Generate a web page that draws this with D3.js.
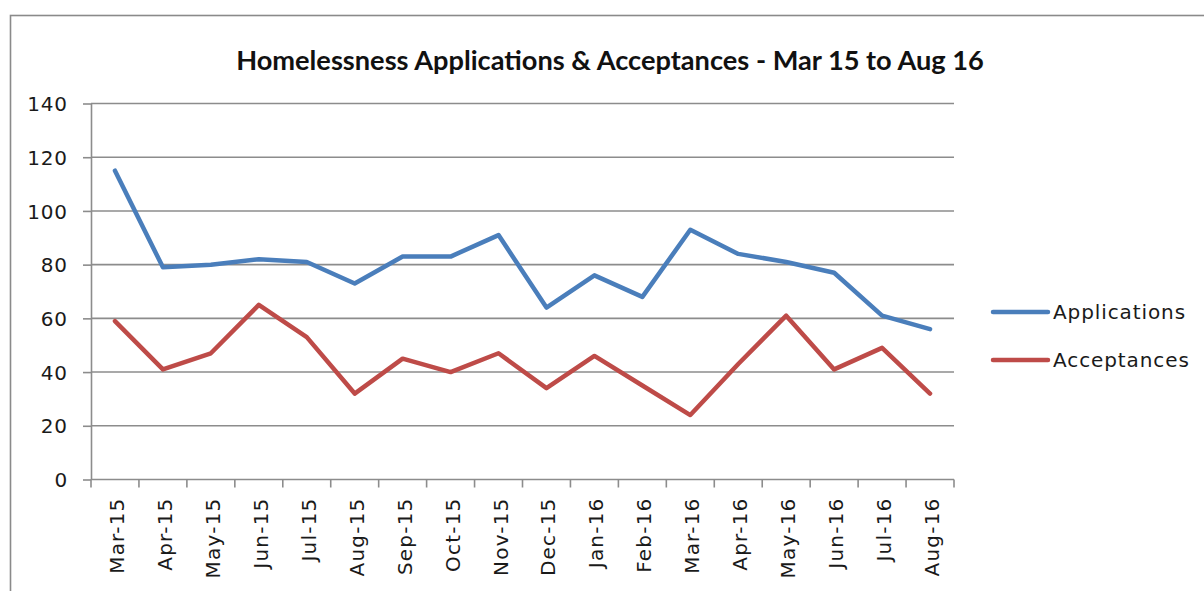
<!DOCTYPE html>
<html>
  <head>
    <meta http-equiv="Content-Type" content="text/html;charset=utf-8"/>
    <script type="text/javascript" src="https://cdn.jsdelivr.net/npm/d3@7/dist/d3.min.js"></script>
    <style type="text/css">
      body { margin: 0; background: #fff; }
      text {
        font-family: "DejaVu Sans", Verdana, sans-serif;
        font-size: 20px;
        letter-spacing: 0.9px;
        fill: #1a1a1a;
      }
      .lbl { letter-spacing: 1.2px; }
      .title {
        font-family: Lato, "Open Sans", sans-serif;
        font-weight: bold;
        font-size: 27.2px;
        letter-spacing: 0;
        fill: #111;
      }
      .grid line { stroke: #8c8c8c; stroke-width: 1.6px; }
      .axis path, .axis line { stroke: #8c8c8c; stroke-width: 1.6px; }
    </style>
  </head>
  <body>
    <svg id="chart"></svg>
    <script type="text/javascript">

    var months = ["Mar-15", "Apr-15", "May-15", "Jun-15", "Jul-15", "Aug-15", "Sep-15", "Oct-15", "Nov-15",
                  "Dec-15", "Jan-16", "Feb-16", "Mar-16", "Apr-16", "May-16", "Jun-16", "Jul-16", "Aug-16"];
    var applications = [115, 79, 80, 82, 81, 73, 83, 83, 91, 64, 76, 68, 93, 84, 81, 77, 61, 56];
    var acceptances  = [59, 41, 47, 65, 53, 32, 45, 40, 47, 34, 46, 35, 24, 43, 61, 41, 49, 32];
    var yTicks = [0, 20, 40, 60, 80, 100, 120, 140];
    var seriesNames = ["Applications", "Acceptances"];
    var seriesColors = ["#4a7ebb", "#be4b48"];

    var w = 1204, h = 591;
    var plotL = 91, plotR = 954, plotT = 103.5, plotB = 479.5;

    var svg = d3.select("#chart")
        .attr("width", w)
        .attr("height", h);

    // outer chart border (runs off the right and bottom edges)
    svg.append("rect")
        .attr("x", 10.5).attr("y", 15.5)
        .attr("width", 1400).attr("height", 800)
        .attr("fill", "none")
        .attr("stroke", "#8a8a8a")
        .attr("stroke-width", 1.6);

    svg.append("text")
        .attr("class", "title")
        .attr("x", 610)
        .attr("y", 70)
        .attr("text-anchor", "middle")
        .text("Homelessness Applications & Acceptances - Mar 15 to Aug 16");

    var x = d3.scaleBand().domain(months).range([plotL, plotR]);
    var y = d3.scaleLinear().domain([0, 140]).range([plotB, plotT]);

    // horizontal gridlines
    svg.append("g").attr("class", "grid")
      .selectAll("line").data(yTicks.filter(function(d) { return d > 0; })).enter()
      .append("line")
        .attr("x1", plotL).attr("x2", plotR)
        .attr("y1", function(d) { return y(d); })
        .attr("y2", function(d) { return y(d); });

    // y axis
    var yAxis = svg.append("g").attr("class", "axis")
        .attr("transform", "translate(" + plotL + ",0)")
        .call(d3.axisLeft(y).tickValues(yTicks).tickSize(8).tickPadding(15).tickSizeOuter(0));
    yAxis.selectAll("text").attr("dy", "0.36em");

    // x axis: labels at band centres, ticks at band boundaries (Excel style)
    var xAxis = svg.append("g").attr("class", "axis")
        .attr("transform", "translate(0," + plotB + ")");
    xAxis.append("line")
        .attr("x1", plotL).attr("x2", plotR)
        .attr("y1", 0).attr("y2", 0);
    var bounds = months.map(function(m) { return x(m); }).concat([plotR]);
    xAxis.selectAll(".tk").data(bounds).enter()
      .append("line").attr("class", "tk")
        .attr("x1", function(d) { return d; }).attr("x2", function(d) { return d; })
        .attr("y1", 0).attr("y2", 8);
    xAxis.selectAll(".lbl").data(months).enter()
      .append("text").attr("class", "lbl")
        .attr("transform", function(d) {
          return "translate(" + (x(d) + x.bandwidth() / 2 + 2) + ",18) rotate(-90)";
        })
        .attr("text-anchor", "end")
        .attr("dy", "0.35em")
        .text(function(d) { return d; });

    // lines
    var line = d3.line()
        .x(function(d, i) { return x(months[i]) + x.bandwidth() / 2; })
        .y(function(d) { return y(d); });

    [applications, acceptances].forEach(function(vals, k) {
      svg.append("path")
          .datum(vals)
          .attr("fill", "none")
          .attr("stroke", seriesColors[k])
          .attr("stroke-width", 4.5)
          .attr("stroke-linejoin", "round")
          .attr("stroke-linecap", "round")
          .attr("d", line);
    });

    // legend
    var legend = svg.append("g").selectAll("g").data(seriesNames).enter()
      .append("g")
        .attr("transform", function(d, i) { return "translate(993," + (312 + i * 48) + ")"; });
    legend.append("line")
        .attr("x1", 0).attr("x2", 55)
        .attr("stroke", function(d, i) { return seriesColors[i]; })
        .attr("stroke-width", 4.5)
        .attr("stroke-linecap", "round");
    legend.append("text")
        .attr("x", 60)
        .attr("dy", "0.36em")
        .text(function(d) { return d; });

    </script>
  </body>
</html>
